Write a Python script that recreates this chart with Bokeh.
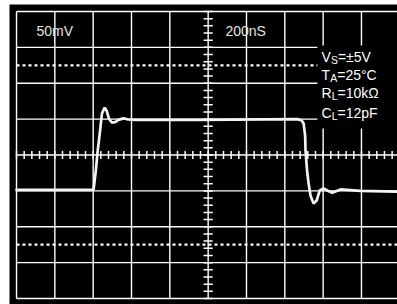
import numpy as np
from bokeh.plotting import figure
from bokeh.models import Range1d
from bokeh.core.properties import value
from bokeh.embed import file_html
from bokeh.resources import INLINE

# ---- data (in screen divisions: x 0..10, y 0..8) ----
t_div = [-0.03, 2.01, 2.07, 2.11, 2.18, 2.23, 2.30, 2.35, 2.41, 2.48, 2.56, 2.66,
         2.79, 2.92, 3.10, 4.80, 7.33, 7.44, 7.49, 7.53, 7.54, 7.58, 7.62, 7.67,
         7.75, 7.83, 7.91, 8.01, 8.11, 8.24, 8.45, 8.97, 9.94]
v_div = [3.03, 3.03, 3.57, 4.04, 4.68, 5.16, 5.32, 5.24, 5.02, 4.91, 4.91, 4.98,
         5.02, 4.99, 4.98, 4.98, 5.00, 4.96, 4.88, 4.54, 4.13, 3.57, 3.21, 2.87,
         2.65, 2.73, 3.01, 3.07, 3.01, 2.95, 3.04, 3.00, 2.98]

grid_x = list(range(0, 11))
grid_y = list(range(0, 9))
dotted_y = [1.5, 6.5]
center_x = 5
center_y = 4

volt_label = "50mV"
time_label = "200nS"
cond_main = ["V", "T", "R", "C"]
cond_sub = ["S", "A", "L", "L"]
cond_rest = ["=\u00b15V", "=25\u00b0C", "=10k\u03a9", "=12pF"]
cond_y = [6.72, 6.24, 5.74, 5.18]
main_w = [9.3, 8.6, 10.1, 10.1]
sub_w = [7.0, 7.0, 5.8, 5.8]

FONT = value("Liberation Sans Narrow, Liberation Sans, Arial Narrow, sans-serif")

p = figure(width=397, height=304, output_backend="svg", toolbar_location=None,
           x_range=Range1d(-0.183, 9.94), y_range=Range1d(-0.167, 8.195),
           x_axis_location=None, y_axis_location=None,
           min_border_left=9, min_border_right=0, min_border_top=4, min_border_bottom=0)
p.background_fill_color = "black"
p.border_fill_color = "white"
p.outline_line_color = None
p.grid.visible = False

# grid
p.segment(x0=grid_x, x1=grid_x, y0=[0] * len(grid_x), y1=[8] * len(grid_x),
          line_color="white", line_width=1.4)
p.segment(x0=[0] * len(grid_y), x1=[10] * len(grid_y), y0=grid_y, y1=grid_y,
          line_color="white", line_width=1.4)

# dotted lines
for yy in dotted_y:
    p.line([0, 10], [yy, yy], line_color="white", line_width=2.2, line_dash="3 3")

# center ticks
tx = np.arange(0, 10.001, 0.2)
p.segment(x0=tx, x1=tx, y0=center_y - 0.11, y1=center_y + 0.11,
          line_color="white", line_width=1.5)
ty = np.arange(0, 8.001, 0.2)
p.segment(x0=center_x - 0.12, x1=center_x + 0.12, y0=ty, y1=ty,
          line_color="white", line_width=1.5)

# black area behind conditions text
p.quad(left=[7.85], right=[10.2], bottom=[4.74], top=[7.05],
       fill_color="black", line_color=None)

# trace
p.line(t_div, v_div, line_color="#f4f4f4", line_width=2.7)

# labels
p.text(x=[0.52], y=[7.47], text=[volt_label], text_color="#e4e4e4",
       text_font=FONT, text_font_size="14px", text_baseline="alphabetic", text_align="left")
p.text(x=[5.45], y=[7.47], text=[time_label], text_color="#e4e4e4",
       text_font=FONT, text_font_size="14px", text_baseline="alphabetic", text_align="left")

cx = 7.96
for m, s, r, yy, mw, sw in zip(cond_main, cond_sub, cond_rest, cond_y, main_w, sub_w):
    p.text(x=[cx], y=[yy], text=[m], text_color="white", text_font=FONT,
           text_font_size="14px", text_baseline="alphabetic", text_align="left")
    p.text(x=[cx], y=[yy], text=[s], text_color="white", text_font=FONT,
           text_font_size="10.5px", text_baseline="alphabetic", text_align="left",
           x_offset=mw, y_offset=3)
    p.text(x=[cx], y=[yy], text=[r], text_color="white", text_font=FONT,
           text_font_size="14px", text_baseline="alphabetic", text_align="left",
           x_offset=mw + sw)

open("out.html", "w").write(file_html(p, INLINE))
